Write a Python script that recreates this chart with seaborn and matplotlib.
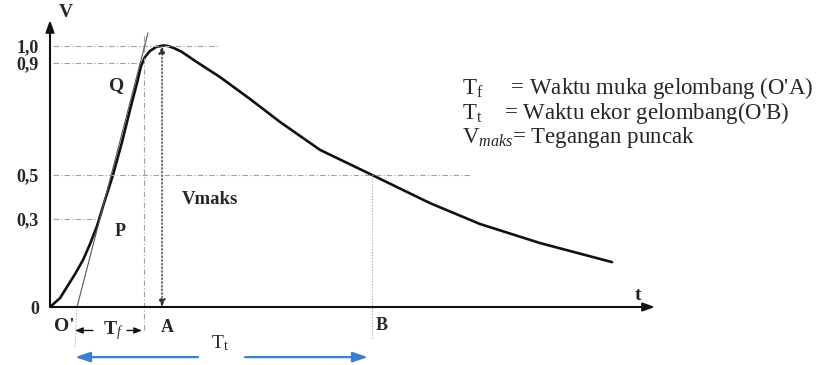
import numpy as np
import pandas as pd
import seaborn as sns
import matplotlib
matplotlib.use("Agg")
import matplotlib.pyplot as plt

# impulse wave shape, t in arbitrary drawing units, V per unit of peak
t_wave = [0.00, 0.10, 0.17, 0.25, 0.33, 0.40, 0.47, 0.55, 0.63, 0.72, 0.80, 0.87,
          0.91, 0.95, 1.00, 1.06, 1.13, 1.18, 1.24, 1.32, 1.45, 1.70, 2.00, 2.30,
          2.70, 3.22, 3.80, 4.30, 4.90, 5.62]
v_wave = [0.000, 0.034, 0.077, 0.126, 0.180, 0.241, 0.310, 0.410, 0.506, 0.632, 0.755, 0.858,
          0.923, 0.958, 0.981, 0.996, 1.002, 1.000, 0.992, 0.977, 0.943, 0.881, 0.797, 0.709,
          0.602, 0.506, 0.398, 0.318, 0.245, 0.172]

# levels as drawn in the sketch (not quite to scale) and their labels
v_levels = [0.0, 0.337, 0.506, 0.935, 1.0]
v_labels = ["0", "0,3", "0,5", "0,9", "1,0"]

# characteristic times
t_front_start = 0.27   # O' (virtual origin)
t_front_end = 0.94     # end of front time
t_peak = 1.12          # A
t_tail = 3.22          # B
t_max = 6.05

legend_lines = [r"$\mathregular{T_f}$     = Waktu muka gelombang (O'A)",
                r"$\mathregular{T_t}$    = Waktu ekor gelombang(O'B)",
                r"$\mathregular{V_{\mathit{maks}}}$= Tegangan puncak"]

sns.set_style("white")
plt.rcParams["font.family"] = ["Liberation Serif", "DejaVu Serif"]
plt.rcParams["mathtext.fontset"] = "custom"
plt.rcParams["mathtext.rm"] = "Liberation Serif"
plt.rcParams["mathtext.it"] = "Liberation Serif:italic"

fig = plt.figure(figsize=(8.3, 3.65), dpi=100)
ax = fig.add_axes([50 / 830, 58 / 365, 605 / 830, 287 / 365])
ax.set_xlim(0, t_max)
ax.set_ylim(0, 1.0996)
for s in ax.spines.values():
    s.set_visible(False)

df = pd.DataFrame({"t": t_wave, "V": v_wave})
sns.lineplot(data=df, x="t", y="V", sort=False, color="#111111", lw=1.9, ax=ax)
ax.set_xlabel("")
ax.set_ylabel("")

# axes with arrow heads
arw = dict(arrowstyle="-|>,head_length=0.7,head_width=0.25", color="#111111", lw=1.5,
           shrinkA=0, shrinkB=0)
ax.annotate("", xy=(0, 1.0996), xytext=(0, 0), arrowprops=arw, annotation_clip=False)
ax.annotate("", xy=(t_max, 0), xytext=(0, 0), arrowprops=arw, annotation_clip=False)

ax.set_yticks(v_levels)
ax.set_yticklabels(v_labels, fontsize=13, fontweight="bold")
ax.set_xticks([])
ax.tick_params(axis="y", length=0, pad=8)
ax.get_yticklabels()[0].set_y(-0.02)

# guide lines
gd = dict(color="#9aa3aa", lw=0.8, ls=(0, (5, 2, 1, 2)))
ax.plot([0.03, 1.68], [1.0, 1.0], **gd)
ax.plot([0.03, 0.90], [0.935, 0.935], **gd)
ax.plot([0.03, 4.2], [0.506, 0.506], **gd)
ax.plot([0.03, 0.47], [0.337, 0.337], **gd)
ax.plot([t_front_end, t_front_end], [-0.09, 1.04], clip_on=False, **gd)
ax.plot([t_tail, t_tail], [-0.12, 0.506], clip_on=False, color="#9aa3aa", lw=0.8, ls=":")

# tangent through P and Q
ax.plot([t_front_start, 0.98], [0.0, 1.05], color="#555555", lw=0.8)
ax.plot([t_front_start, 0.25], [0.0, -0.155], color="#9aa3aa", lw=0.8, ls=":", clip_on=False)

# Vmaks arrow
ax.annotate("", xy=(t_peak, 1.0), xytext=(t_peak, 0.0),
            arrowprops=dict(arrowstyle="<|-|>,head_length=0.45,head_width=0.2", color="#333333",
                            lw=1.0, ls=":", shrinkA=0, shrinkB=0))

# T_f arrows
ya = -0.09
small = dict(arrowstyle="-|>,head_length=0.45,head_width=0.18", color="#111111", lw=1.0,
             shrinkA=0, shrinkB=0)
ax.annotate("", xy=(0.25, ya), xytext=(0.43, ya), arrowprops=small, annotation_clip=False)
ax.annotate("", xy=(0.92, ya), xytext=(0.77, ya), arrowprops=small, annotation_clip=False)
ax.text(0.63, ya, r"T$_f$", fontsize=14, ha="center", va="center", fontweight="bold")

# T_t arrows (blue)
yb = -0.192
blue = dict(arrowstyle="-|>,head_length=0.9,head_width=0.3", color="#3a7fd0", lw=1.6,
            shrinkA=0, shrinkB=0)
ax.annotate("", xy=(0.25, yb), xytext=(1.48, yb), arrowprops=blue, annotation_clip=False)
ax.annotate("", xy=(3.18, yb), xytext=(1.95, yb), arrowprops=blue, annotation_clip=False)
ax.text(1.70, -0.138, r"T$_\mathregular{t}$", fontsize=14, ha="center", va="center")

# point labels
ax.text(0.04, -0.075, "O'", fontsize=14, fontweight="bold", ha="left", va="center")
ax.text(t_peak + 0.05, -0.08, "A", fontsize=13, fontweight="bold", ha="center", va="center")
ax.text(t_tail + 0.1, -0.07, "B", fontsize=13, fontweight="bold", ha="center", va="center")
ax.text(5.88, 0.045, "t", fontsize=14, fontweight="bold", ha="center", va="center")
ax.text(0.16, 1.13, "V", fontsize=14, fontweight="bold", ha="center", va="center", clip_on=False)
ax.text(0.67, 0.85, "Q", fontsize=14, fontweight="bold", ha="center", va="center")
ax.text(0.70, 0.29, "P", fontsize=13, fontweight="bold", ha="center", va="center")
ax.text(1.60, 0.41, "Vmaks", fontsize=13.5, fontweight="bold", ha="center", va="center")

for i, line in enumerate(legend_lines):
    fig.text(462 / 830, 1 - (88 + 25 * i) / 365, line, fontsize=16.5, ha="left", va="center")

fig.savefig("out.png", dpi=100)
